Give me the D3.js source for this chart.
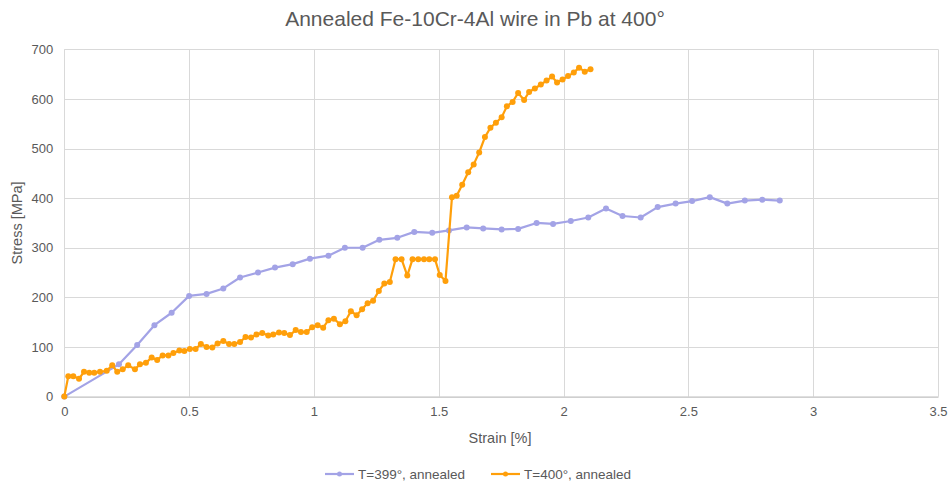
<!DOCTYPE html>
<html>
<head>
<meta charset="utf-8">
<script src="https://cdn.jsdelivr.net/npm/d3@7"></script>
<style>
  html, body { margin: 0; padding: 0; background: #fff; }
  svg { display: block; font-family: "Liberation Sans", Arial, sans-serif; }
</style>
</head>
<body>
<svg id="chart" width="950" height="486"></svg>
<script>
// Stress–strain readings, T = 399° annealed
const strain399 = [0, 0.219, 0.292, 0.361, 0.430, 0.500, 0.570, 0.637, 0.704, 0.776, 0.844, 0.915, 0.984,
  1.058, 1.124, 1.195, 1.262, 1.334, 1.402, 1.474, 1.541, 1.612, 1.678, 1.752, 1.818, 1.892, 1.958,
  2.029, 2.099, 2.170, 2.236, 2.309, 2.377, 2.449, 2.515, 2.586, 2.656, 2.726, 2.796, 2.866];
const stress399 = [0, 65, 104, 144, 169, 203, 207, 218, 240, 250, 260, 267, 278,
  284, 300, 300, 316, 320, 332, 330, 335, 341, 339, 337, 338, 350, 348,
  354, 361, 379, 364, 361, 382, 389, 394, 402, 389, 395, 397, 395];

// Stress–strain readings, T = 400° annealed
const strain400 = [0, 0.016, 0.036, 0.059, 0.079, 0.100, 0.120, 0.143, 0.170, 0.192, 0.212, 0.234, 0.256,
  0.283, 0.303, 0.327, 0.350, 0.372, 0.394, 0.417, 0.437, 0.461, 0.481, 0.503, 0.526, 0.547, 0.570,
  0.593, 0.614, 0.637, 0.660, 0.681, 0.704, 0.726, 0.748, 0.770, 0.793, 0.817, 0.837, 0.860, 0.881,
  0.904, 0.927, 0.948, 0.971, 0.993, 1.015, 1.037, 1.058, 1.080, 1.104, 1.126, 1.148, 1.171, 1.193,
  1.215, 1.237, 1.260, 1.282, 1.304, 1.327, 1.351, 1.374, 1.395, 1.418, 1.441, 1.462, 1.485, 1.504,
  1.527, 1.553, 1.572, 1.594, 1.618, 1.640, 1.662, 1.685, 1.707, 1.729, 1.752, 1.773, 1.796, 1.818,
  1.842, 1.862, 1.885, 1.909, 1.932, 1.954, 1.974, 1.996, 2.018, 2.041, 2.062, 2.085, 2.108];
const stress400 = [0, 41, 41, 36, 50, 48, 48, 50, 52, 63, 50, 55, 63,
  55, 65, 68, 79, 74, 83, 83, 88, 93, 92, 96, 96, 106, 100,
  99, 107, 112, 106, 106, 110, 120, 119, 125, 128, 123, 125, 129, 128,
  124, 134, 130, 130, 140, 144, 139, 154, 157, 146, 152, 172, 164, 176,
  188, 193, 213, 228, 231, 277, 277, 244, 277, 277, 277, 277, 277, 245,
  233, 402, 405, 427, 452, 468, 492, 523, 542, 552, 563, 585, 594, 612,
  598, 614, 621, 629, 637, 645, 633, 639, 646, 653, 663, 655, 660];

const xTicks = [0, 0.5, 1, 1.5, 2, 2.5, 3, 3.5];
const yTicks = [0, 100, 200, 300, 400, 500, 600, 700];
const seriesNames = ["T=399°, annealed", "T=400°, annealed"];
const seriesColors = ["#a3a3e6", "#ff9f0a"];
const titleText = "Annealed Fe-10Cr-4Al wire in Pb at 400°";
const xTitle = "Strain [%]";
const yTitle = "Stress [MPa]";

const svg = d3.select("#chart");
const plot = { left: 64.3, right: 938, top: 49.3, bottom: 396.6 };

const x = d3.scaleLinear().domain([0, 3.5]).range([plot.left, plot.right]);
const y = d3.scaleLinear().domain([0, 700]).range([plot.bottom, plot.top]);

const textColor = "#595959";
const gridColor = "#d9d9d9";

// Gridlines
const g = svg.append("g");
g.selectAll("line.h").data(yTicks.filter(d => d > 0)).join("line")
  .attr("x1", plot.left).attr("x2", plot.right)
  .attr("y1", d => Math.round(y(d)) + 0.5).attr("y2", d => Math.round(y(d)) + 0.5)
  .attr("stroke", gridColor).attr("stroke-width", 1);
g.selectAll("line.v").data(xTicks).join("line")
  .attr("y1", plot.top).attr("y2", plot.bottom)
  .attr("x1", d => Math.round(x(d)) + 0.5).attr("x2", d => Math.round(x(d)) + 0.5)
  .attr("stroke", gridColor).attr("stroke-width", 1);

// Axes
const xAxis = d3.axisBottom(x).tickValues(xTicks).tickSize(0).tickPadding(10)
  .tickFormat(d => d3.format("")(d));
const yAxis = d3.axisLeft(y).tickValues(yTicks).tickSize(0).tickPadding(11);

const gx = svg.append("g").attr("transform", `translate(0,${plot.bottom})`).call(xAxis);
gx.select(".domain").attr("stroke", "#bfbfbf").attr("stroke-width", 1.3);
gx.selectAll("text").attr("fill", textColor).style("font-size", "13px");

const gy = svg.append("g").attr("transform", `translate(${plot.left},0)`).call(yAxis);
gy.select(".domain").remove();
gy.selectAll("text").attr("fill", textColor).style("font-size", "13px");

// Titles
svg.append("text").attr("x", 475).attr("y", 26).attr("text-anchor", "middle")
  .attr("fill", textColor).style("font-size", "21px").text(titleText);
svg.append("text").attr("x", 500).attr("y", 443).attr("text-anchor", "middle")
  .attr("fill", textColor).style("font-size", "14.5px").text(xTitle);
svg.append("text").attr("transform", `translate(22,${(plot.top + plot.bottom) / 2}) rotate(-90)`)
  .attr("text-anchor", "middle").attr("fill", textColor).style("font-size", "14.5px").text(yTitle);

// Series
const series = [
  { xs: strain399, ys: stress399 },
  { xs: strain400, ys: stress400 }
];
const line = d3.line().x(d => x(d[0])).y(d => y(d[1]));

series.forEach((s, i) => {
  const pts = s.xs.map((v, j) => [v, s.ys[j]]);
  const sg = svg.append("g");
  sg.append("path").datum(pts).attr("d", line)
    .attr("fill", "none").attr("stroke", seriesColors[i])
    .attr("stroke-width", 2.2).attr("stroke-linejoin", "round").attr("stroke-linecap", "round");
  sg.selectAll("circle").data(pts).join("circle")
    .attr("cx", d => x(d[0])).attr("cy", d => y(d[1])).attr("r", 3)
    .attr("fill", seriesColors[i]);
});

// Legend
const legendItems = [
  { x0: 325, tx: 358 },
  { x0: 491, tx: 524 }
];
const lg = svg.append("g").attr("transform", "translate(0,474)");
legendItems.forEach((it, i) => {
  lg.append("line").attr("x1", it.x0).attr("x2", it.x0 + 29).attr("y1", 0).attr("y2", 0)
    .attr("stroke", seriesColors[i]).attr("stroke-width", 2.2);
  lg.append("circle").attr("cx", it.x0 + 14.5).attr("cy", 0).attr("r", 2.5).attr("fill", seriesColors[i]);
  lg.append("text").attr("x", it.tx).attr("y", 4.5).attr("fill", textColor)
    .style("font-size", "13.5px").text(seriesNames[i]);
});
</script>
</body>
</html>
